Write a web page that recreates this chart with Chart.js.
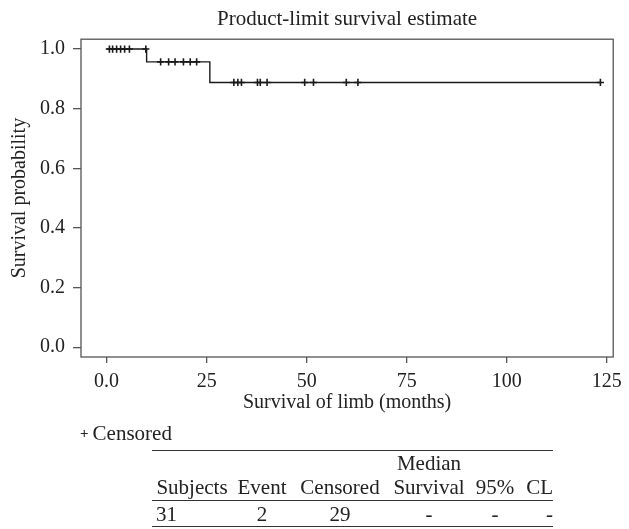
<!DOCTYPE html>
<html>
<head>
<meta charset="utf-8">
<script src="https://cdn.jsdelivr.net/npm/chart.js@4.4.0/dist/chart.umd.min.js"></script>
<style>
    body { margin: 0; background: #fff; }
    #wrap { position: relative; width: 629px; height: 529px; font-family: "Liberation Serif", serif; color: #222; }
    #kmChart { position: absolute; left: 0; top: 0; }
    #legend { position: absolute; left: 80px; top: 421px; font-size: 21px; line-height: 24px; white-space: nowrap; }
    #legend .mark { font-size: 15px; font-weight: bold; margin-right: 4px; position: relative; top: -2px; }
    #stats { position: absolute; left: 152px; top: 450px; width: 401px; border-collapse: collapse; font-size: 21px; line-height: 22px;
             border-top: 1.3px solid #333; border-bottom: 1.3px solid #333; }
    #stats td { padding: 0; text-align: center; vertical-align: middle; white-space: nowrap; }
    #stats tr.top td { height: 23px; }
    #stats tr.head td { height: 26px; border-bottom: 1.3px solid #333; }
    #stats tr.row td { height: 25px; }
    #stats td.first { text-align: left; padding-left: 4px; }
    #stats td.last { text-align: right; }
</style>
</head>
<body>
<div id="wrap">
    <canvas id="kmChart" width="629" height="529"></canvas>
    <div id="legend"><span class="mark">+</span>Censored</div>
    <table id="stats">
        <colgroup>
            <col style="width:80px"><col style="width:60px"><col style="width:96px">
            <col style="width:82px"><col style="width:50px"><col style="width:33px">
        </colgroup>
        <tbody id="statsBody"></tbody>
    </table>
</div>
<script>
// Curva de Kaplan-Meier (degraus)
const stepTimes = [0, 10, 25.8, 123.4];
const stepSurv = [1.0, 0.957, 0.888, 0.888];

// Observações censuradas
const censoredTimes = [0.7, 1.5, 2.5, 3.5, 4.5, 5.7, 9.8,
    13.5, 15.5, 17.1, 19.2, 20.9, 22.5,
    31.8, 32.8, 33.7, 37.7, 38.4, 40.1, 49.5, 51.7, 59.9, 62.8, 123.4];
const censoredSurv = [1, 1, 1, 1, 1, 1, 1,
    0.957, 0.957, 0.957, 0.957, 0.957, 0.957,
    0.888, 0.888, 0.888, 0.888, 0.888, 0.888, 0.888, 0.888, 0.888, 0.888, 0.888];

const xTickValues = [0, 25, 50, 75, 100, 125];
const xTickLabels = ['0.0', '25', '50', '75', '100', '125'];
const yTickValues = [0, 0.2, 0.4, 0.6, 0.8, 1.0];
const yTickLabels = ['0.0', '0.2', '0.4', '0.6', '0.8', '1.0'];

// Tabela resumo
const tableHeaderTop = ['', '', '', 'Median', '', ''];
const tableHeader = ['Subjects', 'Event', 'Censored', 'Survival', '95%', 'CL'];
const tableRow = ['31', '2', '29', '-', '-', '-'];

const FONT = 'Liberation Serif';
const INK = '#1a1a1a';
const AXIS = '#555';

function buildTable() {
    const body = document.getElementById('statsBody');
    [[tableHeaderTop, 'top'], [tableHeader, 'head'], [tableRow, 'row']].forEach(([cells, cls]) => {
        const tr = document.createElement('tr');
        tr.className = cls;
        cells.forEach((txt, i) => {
            const td = document.createElement('td');
            td.textContent = txt;
            if (cls === 'row' && i === 0) td.className = 'first';
            if (i === cells.length - 1) td.className = 'last';
            tr.appendChild(td);
        });
        body.appendChild(tr);
    });
}

// Moldura completa ao redor da área do gráfico
const framePlugin = {
    id: 'frame',
    beforeDatasetsDraw(chart) {
        const { ctx, chartArea: a } = chart;
        ctx.save();
        ctx.strokeStyle = AXIS;
        ctx.lineWidth = 1.3;
        ctx.strokeRect(a.left, a.top, a.right - a.left, a.bottom - a.top);
        ctx.restore();
    }
};

function createChart() {
    const ctx = document.getElementById('kmChart');
    new Chart(ctx, {
        type: 'line',
        data: {
            datasets: [{
                label: 'Survival',
                data: stepTimes.map((t, i) => ({ x: t, y: stepSurv[i] })),
                stepped: true,
                borderColor: INK,
                borderWidth: 1.4,
                pointRadius: 0,
                fill: false
            }, {
                label: 'Censored',
                type: 'scatter',
                data: censoredTimes.map((t, i) => ({ x: t, y: censoredSurv[i] })),
                pointStyle: 'cross',
                pointRadius: 3.6,
                borderColor: INK,
                borderWidth: 1.6,
                showLine: false
            }]
        },
        options: {
            responsive: false,
            animation: false,
            layout: { padding: { left: 8, right: 8, top: 0, bottom: 114 } },
            plugins: {
                legend: { display: false },
                tooltip: { enabled: false },
                title: {
                    display: true,
                    text: 'Product-limit survival estimate',
                    fullSize: false,
                    color: '#222',
                    font: { family: FONT, size: 21, weight: 'normal' },
                    padding: { top: 7, bottom: 7 }
                }
            },
            scales: {
                x: {
                    type: 'linear',
                    min: -6.4,
                    max: 126.6,
                    afterBuildTicks: s => { s.ticks = xTickValues.map(v => ({ value: v })); },
                    afterFit: s => { s.height = 58; },
                    ticks: {
                        callback: (v, i) => xTickLabels[i],
                        color: '#222',
                        padding: 7,
                        maxRotation: 0,
                        font: { family: FONT, size: 20 }
                    },
                    grid: { drawOnChartArea: false, tickLength: 6, color: AXIS, lineWidth: 1.3 },
                    border: { display: false },
                    title: {
                        display: true,
                        text: 'Survival of limb (months)',
                        color: '#222',
                        padding: 0,
                        font: { family: FONT, size: 20 }
                    }
                },
                y: {
                    type: 'linear',
                    min: -0.033,
                    max: 1.033,
                    afterBuildTicks: s => { s.ticks = yTickValues.map(v => ({ value: v })); },
                    afterFit: s => { s.width = 73; },
                    ticks: {
                        callback: (v, i) => yTickLabels[i],
                        color: '#222',
                        padding: 8,
                        font: { family: FONT, size: 20 }
                    },
                    grid: { drawOnChartArea: false, tickLength: 8, color: AXIS, lineWidth: 1.3 },
                    border: { display: false },
                    title: {
                        display: true,
                        text: 'Survival probability',
                        color: '#222',
                        padding: 0,
                        font: { family: FONT, size: 20 }
                    }
                }
            }
        },
        plugins: [framePlugin]
    });
}

document.addEventListener('DOMContentLoaded', () => {
    buildTable();
    createChart();
});
</script>
</body>
</html>
